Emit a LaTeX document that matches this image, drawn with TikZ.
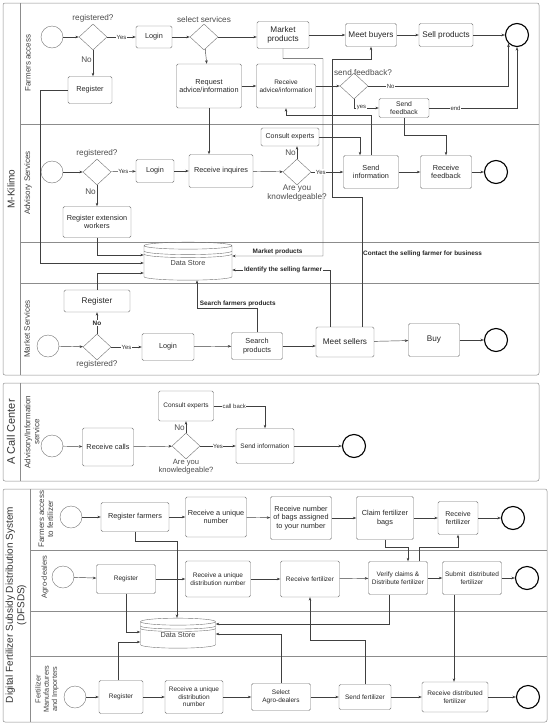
\documentclass[tikz,border=0pt]{standalone}
\usepackage{fontspec}
\setmainfont{Liberation Sans}
\usepackage{tikz}
\usetikzlibrary{positioning}
\usetikzlibrary{shapes.geometric}
\usetikzlibrary{calc}
\usetikzlibrary{arrows.meta}

\tikzset{
  pool/.style={draw=black!45, rounded corners=2pt, line width=0.5pt},
  sep/.style={draw=black!45, line width=0.5pt},
  poollbl/.style={rotate=90, align=center, font=\fontsize{10}{11.5}\selectfont, text=black!80},
  lanelbl/.style={rotate=90, align=center, font=\fontsize{8}{9}\selectfont, text=black!75},
  bx/.style 2 args={draw=black!55, rounded corners=1.5pt, align=center, inner sep=1pt,
    minimum width=#1, minimum height=#2, font=\fontsize{7.3}{8.4}\selectfont, text=black!85},
  sm/.style={font=\fontsize{6.5}{7.6}\selectfont},
  lg/.style={font=\fontsize{8.2}{9.4}\selectfont},
  gate/.style={diamond, draw=black!55, minimum width=28pt, minimum height=26pt, inner sep=0pt},
  startev/.style={circle, draw=black!55, minimum size=22pt, inner sep=0pt},
  endev/.style={circle, draw=black, line width=1.1pt, minimum size=23pt, inner sep=0pt},
  store/.style 2 args={cylinder, shape border rotate=90, aspect=0.2, draw=black!55,
    minimum width=#1, minimum height=#2, inner sep=0pt, font=\fontsize{7.3}{8.4}\selectfont, text=black!75},
  ring/.style={draw=black!55},
  flow/.style={draw=black!75, line width=0.45pt, -{Stealth[length=3.5pt,width=2.6pt]}},
  qlbl/.style={align=center, font=\fontsize{8.2}{8.8}\selectfont, text=black!70, inner sep=0.5pt},
  lbl/.style={fill=white, inner sep=0.6pt, font=\fontsize{6}{6.5}\selectfont, text=black!80},
  nolbl/.style={inner sep=1pt, font=\fontsize{8.2}{9}\selectfont, text=black!70},
  blbl/.style={inner sep=1pt, font=\bfseries\fontsize{6.4}{7}\selectfont, text=black!85}
}

\begin{document}
\begin{tikzpicture}[x=1pt, y=-1pt]
\useasboundingbox (0,0) rectangle (550,726);

% Pools and lanes
\draw [pool] (3,3) rectangle (539,375);
\draw [sep] (20,3) -- (20,375);
\draw [sep] (20,124) -- (539,124);
\draw [sep] (20,242) -- (539,242);
\draw [sep] (20,283) -- (539,283);
\node [poollbl] at (11,189) (p1) {M-Kilimo};
\node [lanelbl] at (28,63) (l1a) {Farmers access};
\node [lanelbl] at (28,183) (l1b) {Advisory Services};
\node [lanelbl] at (27,329) (l1c) {Market Services};

\draw [pool] (3,383) rectangle (539,481);
\draw [sep] (20,383) -- (20,481);
\node [poollbl, font=\fontsize{11}{12}\selectfont] at (11,432) (p2) {A Call Center};
\node [lanelbl] at (32,432) (l2a) {Advisory/Information\\service};

\draw [pool] (3,489) rectangle (547,722);
\draw [sep] (30,489) -- (30,722);
\draw [sep] (30,550) -- (547,550);
\draw [sep] (30,611) -- (547,611);
\draw [sep] (30,656) -- (547,656);
\node [poollbl] at (16,605) (p3) {Digital Fertilizer Subsidy Distribution System\\(DFSDS)};
\node [lanelbl] at (46,519) (l3a) {Farmers access\\to fertilizer};
\node [lanelbl, font=\fontsize{7.5}{8.5}\selectfont] at (45,577) (l3b) {Agro-dealers};
\node [lanelbl, font=\fontsize{7.3}{8.3}\selectfont] at (47,689) (l3c) {Fertilizer\\Manufacturers\\and Importers};

% Farmers access
\node [startev] at (52,37) (faStart) {};
\node [gate] at (93,37) (faGw) {};
\node [qlbl, above=1pt of faGw] (faGwQ) {registered?};
\node [bx={36pt}{22pt}] at (154,37) (faLogin) {Login};
\node [bx={44pt}{27pt}] at (90,90) (faReg) {Register};
\node [gate] at (204,37) (faSel) {};
\node [qlbl, above=1pt of faSel] (faSelQ) {select services};
\node [bx={52pt}{27pt}, lg] at (283,35) (faMarket) {Market\\products};
\node [bx={51pt}{23pt}, lg] at (371,35) (faMeet) {Meet buyers};
\node [bx={54pt}{23pt}, lg] at (446,35) (faSell) {Sell products};
\node [endev] at (517,35) (faEnd) {};
\node [bx={65pt}{44pt}] at (209,86) (faReq) {Request\\advice/information};
\node [bx={59pt}{44pt}, sm] at (286,86) (faRecv) {Receive\\advice/information};
\node [gate] at (354,86) (faFb) {};
\node [qlbl, above=-3pt of faFb.north, xshift=9pt] (faFbQ) {send feedback?};
\node [bx={50pt}{19pt}, font=\fontsize{6.8}{7.6}\selectfont] at (404,108) (faSendFb) {Send\\feedback};

% Advisory Services
\node [startev] at (52,172) (asStart) {};
\node [gate] at (97,172) (asGw) {};
\node [qlbl, above=1pt of asGw] (asGwQ) {registered?};
\node [bx={38pt}{23pt}] at (155,171) (asLogin) {Login};
\node [bx={64pt}{33pt}] at (221,171) (asInq) {Receive inquires};
\node [bx={68pt}{31pt}] at (97,222) (asRegExt) {Register extension\\workers};
\node [gate] at (297,172) (asKnow) {};
\node [qlbl, below=-1pt of asKnow] (asKnowQ) {Are you\\knowledgeable?};
\node [bx={58pt}{18pt}, font=\fontsize{7}{8}\selectfont] at (290,137) (asConsult) {Consult experts};
\node [bx={55pt}{33pt}] at (371,172) (asSendInfo) {Send\\information};
\node [bx={51pt}{33pt}] at (446,172) (asRecvFb) {Receive\\feedback};
\node [endev] at (496,172) (asEnd) {};

% Data store lane
\node [store={88pt}{38pt}] at (188,263) (dsStore) {\raisebox{-6pt}{Data Store}};
\draw [ring] (144,251) arc[start angle=180, end angle=360, x radius=44pt, y radius=3.6pt];
\draw [ring] (144,254) arc[start angle=180, end angle=360, x radius=44pt, y radius=3.6pt];

% Market Services
\node [startev] at (48,346) (msStart) {};
\node [gate] at (97,347) (msGw) {};
\node [qlbl, below=0pt of msGw] (msGwQ) {registered?};
\node [bx={66pt}{22pt}, lg] at (97,301) (msReg) {Register};
\node [bx={52pt}{27pt}] at (168,347) (msLogin) {Login};
\node [bx={51pt}{27pt}] at (257,346) (msSearch) {Search\\products};
\node [bx={58pt}{30pt}, lg] at (345,342) (msMeet) {Meet sellers};
\node [bx={51pt}{33pt}, lg] at (434,340) (msBuy) {Buy};
\node [endev] at (496,340) (msEnd) {};

% Call Center
\node [startev] at (52,446) (ccStart) {};
\node [bx={51pt}{38pt}] at (108,447) (ccRecv) {Receive calls};
\node [gate] at (186,446) (ccGw) {};
\node [qlbl, below=-1pt of ccGw, font=\fontsize{7.6}{8.2}\selectfont] (ccGwQ) {Are you\\knowledgeable?};
\node [bx={55pt}{30pt}, sm] at (186,406) (ccConsult) {Consult experts};
\node [bx={58pt}{35pt}, sm] at (265,446) (ccSend) {Send information};
\node [endev] at (354,446) (ccEnd) {};

% DFSDS: farmers access to fertilizer
\node [startev] at (71,517) (ffStart) {};
\node [bx={68pt}{29pt}] at (135,517) (ffReg) {Register farmers};
\node [bx={61pt}{40pt}] at (216,517) (ffUnique) {Receive a unique\\number};
\node [bx={61pt}{43pt}] at (301,518) (ffBags) {Receive number\\of bags assigned\\to your number};
\node [bx={57pt}{43pt}] at (385,518) (ffClaim) {Claim fertilizer\\bags};
\node [bx={40pt}{33pt}, font=\fontsize{7}{8}\selectfont] at (458,518) (ffRecv) {Receive\\fertilizer};
\node [endev] at (513,518) (ffEnd) {};

% DFSDS: agro-dealers
\node [startev] at (63,577) (adStart) {};
\node [bx={59pt}{29pt}, sm] at (126,579) (adReg) {Register};
\node [bx={65pt}{36pt}, sm] at (218,579) (adUnique) {Receive a unique\\distribution number};
\node [bx={59pt}{36pt}, sm] at (310,579) (adRecv) {Receive fertilizer};
\node [bx={59pt}{33pt}, sm] at (398,578) (adVerify) {Verify claims \&\\Distribute fertilizer};
\node [bx={59pt}{33pt}, sm] at (472,578) (adSubmit) {Submit\ \ distributed\\fertilizer};
\node [endev] at (527,578) (adEnd) {};

% DFSDS: data store
\node [store={75pt}{30pt}] at (178,635) (ds2) {\raisebox{-5pt}{Data Store}};
\draw [ring] (140.5,626) arc[start angle=180, end angle=360, x radius=37.5pt, y radius=3pt];
\draw [ring] (140.5,628.5) arc[start angle=180, end angle=360, x radius=37.5pt, y radius=3pt];

% DFSDS: manufacturers and importers
\node [startev] at (75,697) (fmStart) {};
\node [bx={44pt}{33pt}, sm] at (121,697) (fmReg) {Register};
\node [bx={58pt}{33pt}, sm] at (194,697) (fmUnique) {Receive a unique\\distribution\\number};
\node [bx={59pt}{27pt}, sm] at (281,697) (fmSelect) {Select\\Agro-dealers};
\node [bx={52pt}{25pt}, sm] at (365,697) (fmSend) {Send fertilizer};
\node [bx={66pt}{30pt}, sm] at (455,697) (fmRecv) {Receive distributed\\fertilizer};
\node [endev] at (528,697) (fmEnd) {};

% Connections: farmers access
\draw [flow] (faStart) -- (faGw);
\draw [flow] (faGw) -- node [lbl] {Yes} (faLogin);
\draw [flow] (faGw.south) -- node [nolbl, left, pos=0.35] {No} (faGw.south |- faReg.north);
\draw [flow] (faLogin) -- (faSel);
\draw [flow] (faSel.east) -- (faSel.east -| faMarket.west);
\draw [flow] (faSel) -- (faReq);
\draw [flow] (faMarket) -- (faMeet);
\draw [flow] (faMeet) -- (faSell);
\draw [flow] (faSell) -- (faEnd);
\draw [flow] (faReq) -- (faRecv);
\draw [flow] (faRecv) -- (faFb);
\draw [flow] (faFb.east) -| node [lbl, pos=0.08] {No} (faEnd.south west);
\draw [flow] (faFb.south) |- node [lbl, pos=0.65] {yes} (faSendFb.west);
\draw [flow] (faSendFb.east) -| node [lbl, pos=0.15] {end} (faEnd.south);
\draw [flow] (faSendFb.south) -- ++(0,18) -| (asRecvFb.north);
\draw [flow] (faReg.west) -- ++(-28,0) |- (dsStore.west);
\draw [flow] (faMarket.south) -- ++(0,10) -| (323,256) -- node [blbl, above] {Market products} ([yshift=7pt]dsStore.east);

% Connections: advisory services
\draw [flow] (asStart) -- (asGw);
\draw [flow] (asGw) -- node [lbl] {Yes} (asLogin);
\draw [flow] (asGw) -- node [nolbl, left, pos=0.3] {No} (asRegExt);
\draw [flow] (asLogin) -- (asInq);
\draw [flow] (faReq.south) -- (faReq.south |- asInq.north);
\draw [flow] (asInq) -- (asKnow);
\draw [flow] (asKnow.north) -- node [nolbl, left, pos=0.45] {No} (asKnow.north |- asConsult.south);
\draw [flow] (asKnow) -- node [lbl, pos=0.3] {Yes} (asSendInfo);
\draw [flow] (asConsult.east) -| ([xshift=-11pt]asSendInfo.north);
\draw [flow] (asSendInfo.north) -- ++(0,-40) -| (faRecv.south);
\draw [flow] (asSendInfo) -- (asRecvFb);
\draw [flow] (asRecvFb) -- (asEnd);
\draw [flow] (asRegExt.south) |- ([yshift=8pt]dsStore.west);

% Connections: market services
\draw [flow] (msStart) -- (msGw);
\draw [flow] (msGw) -- node [blbl, fill=white] {No} (msReg);
\draw [flow] (msGw) -- node [lbl] {Yes} (msLogin);
\draw [flow] (msReg.north) |- ([yshift=-10pt]dsStore.west);
\draw [flow] (msLogin) -- (msSearch);
\draw [flow] (msSearch.east) -- (msSearch.east -| msMeet.west);
\draw [flow] (msMeet) -- (msBuy);
\draw [flow] (msBuy) -- (msEnd);
\draw [flow] (msSearch.north) -- ++(0,-24) -| node [blbl, above, pos=0.16] {Search farmers products} ([xshift=9pt]dsStore.south);
\draw [flow] ([xshift=-15pt]msMeet.north) |- node [blbl, fill=white, pos=0.74] {Identify the selling farmer} ([yshift=-7pt]dsStore.east);
\draw [flow] ([xshift=17pt]msMeet.north) -- node [blbl, right, pos=0.56] {Contact the selling farmer for business} ++(0,-130) -| (332,59) -| (faMeet.south);

% Connections: call center
\draw [flow] (ccStart) -- (ccRecv);
\draw [flow] (ccRecv) -- (ccGw);
\draw [flow] (ccGw) -- node [nolbl, left, pos=0.4] {No} (ccConsult);
\draw [flow] (ccGw) -- node [lbl] {Yes} (ccSend);
\draw [flow] (ccConsult.east) -| node [lbl, pos=0.2] {call back} (ccSend.north);
\draw [flow] (ccSend) -- (ccEnd);

% Connections: DFSDS
\draw [flow] (ffStart) -- (ffReg);
\draw [flow] (ffReg) -- (ffUnique);
\draw [flow] (ffUnique) -- (ffBags);
\draw [flow] (ffBags) -- (ffClaim);
\draw [flow] (ffClaim) -- (ffRecv);
\draw [flow] (ffRecv) -- (ffEnd);
\draw [flow] (adStart) -- (adReg);
\draw [flow] (adReg) -- (adUnique);
\draw [flow] (adUnique) -- (adRecv);
\draw [flow] (adRecv) -- (adVerify);
\draw [flow] (adVerify) -- (adSubmit);
\draw [flow] (adSubmit) -- (adEnd);
\draw [flow] (fmStart) -- (fmReg);
\draw [flow] (fmReg) -- (fmUnique);
\draw [flow] (fmUnique) -- (fmSelect);
\draw [flow] (fmSelect) -- (fmSend);
\draw [flow] (fmSend) -- (fmRecv);
\draw [flow] (fmRecv) -- (fmEnd);
\draw [flow] (ffClaim.south) -- ++(0,8) -| ([xshift=10pt]adVerify.north);
\draw [flow] ([xshift=21pt]adVerify.north) -- ++(0,-14) -| (ffRecv.south);
\draw [flow] (ffReg.south) -- ++(0,10) -| ([xshift=-1pt]ds2.north);
\draw [flow] (adReg.south) |- ([yshift=3pt]ds2.west);
\draw [flow] ([xshift=-3pt]fmReg.north) |- ([yshift=-7pt]ds2.west);
\draw [flow] ([xshift=-9pt]adVerify.south) |- ([yshift=11pt]ds2.east);
\draw [flow] (fmSelect.north) |- ([yshift=1pt]ds2.east);
\draw [flow] (fmSend.north) -- ++(0,-44) -| (adRecv.south);
\draw [flow] ([xshift=-18pt]adSubmit.south) -- ([xshift=-18pt]adSubmit.south |- fmRecv.north);

\end{tikzpicture}
\end{document}
